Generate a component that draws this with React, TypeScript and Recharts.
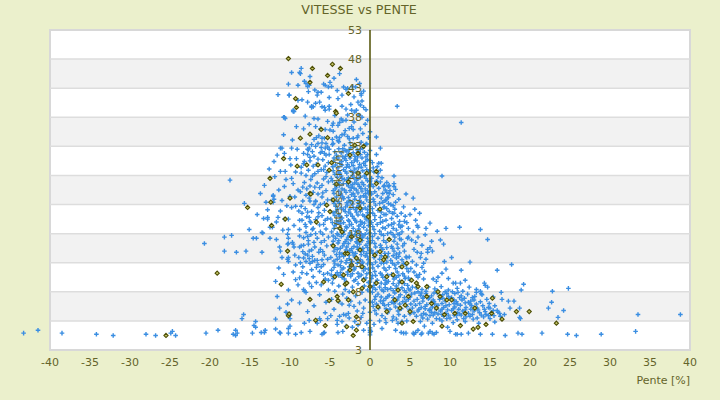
import React from "react";
import {
  ScatterChart,
  Scatter,
  XAxis,
  YAxis,
  ReferenceArea,
  ReferenceLine,
  ReferenceDot,
} from "recharts";

type P = [number, number];

const chartTitle = "VITESSE vs PENTE";
const xTitle = "Pente [%]";
const yTitle = "Vitesse [km/h]";

const xDomain: P = [-45, 40];
const yDomain: P = [-2, 53];
const xTicks = [-40, -35, -30, -25, -20, -15, -10, -5, 0, 5, 10, 15, 20, 25, 30, 35, 40];
const yTicks = [-2, 3, 8, 13, 18, 23, 28, 33, 38, 43, 48, 53];
const yTickLabels = ["3", "3", "8", "13", "18", "23", "28", "33", "38", "43", "48", "53"];
const grayBands: P[] = [[3, 8], [13, 18], [23, 28], [33, 38], [43, 48]];
const yTitleAt = 25.5;

const blueBottomRow: P[] = [
  [-43.3, 0.9], [-41.5, 1.4], [-38.5, 0.9], [-34.2, 0.7], [-32.1, 0.5], [-28, 0.7], [-26.8, 0.5],
  [-24.9, 0.9], [-24.7, 1.2], [-24.3, 0.5], [-20.5, 0.9], [-19, 1.4], [-17.1, 0.7], [-16.8, 0.5],
  [-16.6, 0.9], [-16.8, 1.4], [-14.7, 0.9], [-14.3, 1.9], [-13.6, 1.0], [-13.2, 1.0], [-13.1, 1.4],
  [-11.8, 1.6], [-11.3, 1.0], [-11.2, 0.9], [-10.2, 1.7], [-10, 2.1], [-10.2, 0.9], [-9.3, 0.7],
  [-8.6, 1.0], [-7.5, 1.2], [-6, 0.7], [-5.8, 0.9], [-5.7, 1.0], [-2.2, 1.9], [-3.4, 1.2], [-4.0, 1.0],
  [-1.5, 2.3], [-0.8, 1.4], [0, 1.0], [0, 1.4], [0, 0.6], [0.1, 1.2], [0, 1.8], [1.5, 1.7], [3.2, 1.4],
  [3.9, 1.0], [4.2, 0.9], [4.5, 0.9], [5.4, 0.9], [5.7, 1.0], [5.5, 0.7], [6, 1.4], [6.4, 0.7],
  [6.5, 0.9], [6.8, 2.1], [7.3, 0.9], [7.5, 1.2], [7.8, 0.9], [8, 0.7], [8.3, 1.0], [9.7, 1.9],
  [10, 1.2], [10.7, 0.7], [10.9, 0.7], [11.4, 0.7], [12.3, 0.9], [13.8, 0.7], [15.3, 0.7], [16.9, 0.5],
  [18.5, 0.9], [19, 0.7], [21.5, 0.9], [24.7, 0.7], [25.8, 0.5], [28.9, 0.7], [33.2, 1.2],
];

const blueLeftWing: P[] = [
  [-16, 3.4], [-15.8, 4.1], [-14.5, 2.2], [-14.3, 2.9], [-11.8, 3.3], [-10.3, 5.9], [-10.5, 4.5],
  [-10.2, 4.1], [-10, 4.0], [-10, 3.4], [-11.8, 9.8], [-9.3, 10.1], [-10.2, 8.3], [-11.6, 7.2],
  [-20.7, 16.3], [-18.2, 17.4], [-17.3, 17.7], [-18.2, 15], [-16.7, 14.8], [-15.5, 15], [-13.5, 14.8],
  [-15.7, 23.2], [-13.7, 24.9], [-12.1, 24.6], [-12, 23.9], [-12.1, 23.4], [-13, 23.4], [-11, 23.7],
  [-9.3, 22.7], [-9.8, 22.5], [-13.3, 20.6], [-12.8, 20.8], [-12.8, 20.5], [-12.5, 19.1], [-12.2, 19.1],
  [-11.5, 20.8], [-11.7, 20], [-15.1, 18.7], [-13.5, 18.2], [-13.4, 18.1], [-14.6, 17.2], [-14.2, 17.2],
  [-12.5, 17.2], [-10.7, 20.5], [-10.2, 20.5], [-10.2, 18.7], [-10.3, 17.9], [-10.2, 17.2], [-10.2, 16.3],
  [-10.3, 16.2], [-9.7, 16.5], [-9.6, 16.2], [-11.3, 15.7], [-11.2, 15], [-10.2, 13.9], [-10.2, 13.2],
  [-10.3, 13.6], [-9.3, 12.6], [-9.5, 15.7], [-17.5, 27.2], [-9.8, 27.5], [-9.6, 26.6], [-10.7, 26.1],
  [-9, 25.5], [-10, 24.4], [-12.1, 24.4], [-11, 32.7], [-11.2, 32.7], [-10.7, 31.8], [-10.8, 30.9],
  [-10, 30.9], [-9.2, 30.9], [-10.6, 28.7], [-11.2, 28.7], [-12, 30.4], [-9.8, 32.7], [-9.5, 39],
  [-9.6, 39.2], [-10.7, 38], [-10.6, 37.8], [-11.5, 41.9], [-10.1, 41.8], [-9, 40.9], [-9.8, 45.7],
  [-10.2, 43.7], [-9.6, 39.0], [-11.4, 12.1], [-10.8, 11.0], [-9.6, 11.4], [-11.0, 13.9], [-9.4, 14.3],
  [-11.7, 17.0], [-10.9, 18.6], [-9.5, 19.4], [-11.2, 21.9], [-10.4, 22.8], [-9.4, 24.3], [-11.4, 25.5],
  [-10.5, 27.3], [-9.3, 28.6], [-9.9, 29.8], [-11.6, 31.5], [-9.7, 34.1], [-10.8, 35.0], [-9.2, 36.4],
  [-11.9, 27.8], [-12.6, 29.1], [-13.2, 26.3], [-12.8, 22.1], [-14.1, 21.3], [-11.3, 5.2], [-9.8, 6.6],
  [-9.0, 9.2], [-10.8, 38.0], [-10.1, 41.8],
];

const blueLeftCloud: P[] = [
  [-8.8, 10.4], [-7.9, 11.1], [-7.1, 10.6], [-6.3, 11.5], [-5.6, 10.2], [-8.4, 12.3], [-7.5, 12.9],
  [-6.7, 12.2], [-5.8, 12.7], [-5.3, 13.6], [-8.9, 13.9], [-8.1, 14.5], [-7.2, 14.1], [-6.4, 14.8],
  [-5.7, 14.3], [-8.6, 15.9], [-7.7, 16.2], [-6.9, 15.7], [-6.1, 16.5], [-5.4, 15.9], [-8.3, 17.3],
  [-7.4, 17.8], [-6.6, 17.2], [-5.9, 17.9], [-5.2, 17.4], [-8.8, 18.7], [-8.0, 19.2], [-7.1, 18.9],
  [-6.3, 19.5], [-5.5, 18.8], [-8.5, 20.3], [-7.6, 20.8], [-6.8, 20.4], [-6.0, 21.1], [-5.3, 20.6],
  [-8.9, 21.9], [-8.1, 22.3], [-7.3, 21.8], [-6.5, 22.5], [-5.7, 22.0], [-8.4, 23.6], [-7.6, 24.1],
  [-6.8, 23.5], [-6.0, 24.3], [-5.3, 23.8], [-8.7, 25.2], [-7.9, 25.7], [-7.1, 25.1], [-6.3, 25.9],
  [-5.5, 25.4], [-8.2, 26.8], [-7.4, 27.3], [-6.6, 26.7], [-5.8, 27.4], [-5.2, 26.9], [-8.6, 28.4],
  [-7.7, 28.9], [-6.9, 28.3], [-6.1, 29.0], [-5.4, 28.5], [-8.3, 30.0], [-7.5, 30.5], [-6.7, 29.9],
  [-5.9, 30.7], [-5.2, 30.2], [-7.8, 31.6], [-7.0, 31.3], [-6.2, 31.9], [-5.5, 31.5], [-6.8, 33.0],
  [-6.0, 33.6], [-5.3, 32.9], [-6.4, 34.8], [-5.7, 34.4], [-8.0, 13.2], [-6.9, 13.4], [-6.0, 13.5],
  [-7.3, 15.2], [-6.2, 15.3], [-7.8, 17.5], [-6.2, 18.3], [-5.8, 19.6], [-7.4, 19.9], [-6.4, 21.6],
  [-7.0, 23.0], [-5.7, 23.2], [-6.5, 24.8], [-7.5, 26.2], [-6.0, 26.3], [-7.2, 27.9], [-5.6, 29.6],
  [-6.5, 30.8], [-7.7, 32.4], [-5.1, 31.6], [-8, 33.4], [-7.8, 32.5], [-7.6, 32.7], [-7.2, 32.1],
  [-8.3, 31.8], [-9.1, 32.5], [-8.2, 30.4], [-7.5, 31.1], [-6.5, 33.5], [-6.1, 32.8], [-5.6, 32.7],
  [-5.1, 32.5], [-5.7, 31.8], [-6.5, 37.7], [-5.3, 37.3], [-6.8, 36.4], [-5.6, 35.9], [-6.7, 34.5],
  [-6, 34.4], [-5.5, 33.5], [-7.3, 39.9], [-6.5, 42.3], [-6.1, 42.3], [-6.6, 41.8], [-6.8, 40.4],
  [-6.3, 40.6], [-5.1, 41.4], [-5.1, 39.9], [-5.7, 39.7], [-5.1, 39.4], [-8.6, 46.4], [-8.8, 45.7],
  [-8.7, 45.5], [-7.5, 45.0], [-8.2, 44.2], [-8, 43.8], [-9, 43.5], [-7.8, 43.3], [-7.6, 43.5],
  [-7.7, 42.4], [-6.9, 42.7], [-6, 39.8], [-5.6, 39.2], [-7.1, 39.8], [-7.3, 39.7], [-8.3, 8.4],
  [-8.2, 8.1], [-8, 7.9], [-7.6, 9.5], [-6.7, 9.6], [-6.1, 9.2], [-5.8, 11], [-5.3, 11.2], [-5.2, 10],
  [-6.6, 13.4], [-6.5, 12.7], [-7.2, 13.2], [-8.3, 13.8], [-7.8, 14.3], [-7.6, 15], [-7.7, 16.8],
  [-8.3, 16], [-8.8, 15.7], [-8.8, 17.6], [-8.1, 19.6], [-7.5, 20.1], [-7.2, 18.7], [-8.8, 20.3],
  [-8.5, 21.5], [-7.8, 21.7], [-7.5, 23.6], [-6.8, 23.6], [-8.2, 2.6], [-7.6, 3.1], [-6.3, 3.4],
  [-6.2, 3.1], [-5.3, 3.4], [-7.0, 5.6], [-6.3, 7.5], [-5.5, 6.2], [-5.2, 8.3], [-7.8, 4.6], [-6.6, 2.6],
  [-5.6, 4.4], [-8.8, 6.1], [-7.3, 8.9], [-5.8, 43.7], [-5.6, 43.5], [-5.2, 43.2], [-5.0, 44.0],
  [-8.5, 11.3], [-7.3, 11.8], [-6.1, 12.3], [-8.7, 13.0], [-7.6, 13.7], [-5.9, 14.9], [-8.4, 14.9],
  [-7.0, 16.5], [-5.7, 16.8], [-8.0, 18.2], [-6.8, 18.0], [-5.6, 20.3], [-7.9, 20.9], [-6.5, 20.9],
  [-8.6, 22.7], [-6.2, 23.0], [-8.0, 24.6], [-5.9, 25.0], [-8.4, 26.0], [-6.9, 26.0], [-5.5, 27.8],
  [-8.0, 28.0], [-6.5, 28.7], [-7.1, 29.6], [-5.8, 29.0], [-8.6, 29.4], [-6.0, 32.1], [-7.3, 33.3],
  [-7.0, 34.2], [-6.2, 36.0], [-7.6, 36.8], [-8.3, 36.0], [-8.1, 38.2], [-7.0, 37.8], [-8.5, 41.0],
  [-7.8, 40.6],
];

const blueCoreLeft: P[] = [
  [-4.6, 10.3], [-3.9, 10.8], [-3.2, 10.2], [-2.4, 10.7], [-1.8, 10.1], [-1.1, 10.9], [-0.5, 10.4],
  [-4.8, 11.7], [-4.1, 11.3], [-3.5, 11.9], [-2.8, 11.4], [-2.0, 11.8], [-1.5, 11.2], [-0.8, 11.6],
  [-0.2, 11.9], [-4.4, 12.8], [-3.7, 12.5], [-3.0, 13.0], [-2.3, 12.6], [-1.6, 12.9], [-0.9, 12.4],
  [-0.3, 12.8], [-4.9, 13.9], [-4.1, 13.6], [-3.3, 14.1], [-2.6, 13.7], [-1.9, 14.0], [-1.2, 13.5],
  [-0.6, 14.2], [-4.5, 15.0], [-3.8, 14.7], [-3.0, 15.2], [-2.2, 14.8], [-1.5, 15.3], [-0.8, 14.9],
  [-0.1, 15.1], [-4.7, 16.1], [-4.0, 16.4], [-3.4, 15.9], [-2.7, 16.3], [-2.0, 15.8], [-1.3, 16.2],
  [-0.5, 16.0], [-4.3, 17.2], [-3.6, 17.5], [-2.9, 17.0], [-2.2, 17.4], [-1.6, 17.1], [-0.9, 17.6],
  [-0.3, 17.2], [-4.8, 18.3], [-4.1, 18.0], [-3.2, 18.5], [-2.5, 18.1], [-1.8, 18.4], [-1.1, 18.0],
  [-0.4, 18.6], [-4.4, 19.4], [-3.7, 19.7], [-3.0, 19.2], [-2.3, 19.6], [-1.4, 19.3], [-0.7, 19.8],
  [-0.2, 19.4], [-4.9, 20.5], [-4.2, 20.2], [-3.5, 20.7], [-2.7, 20.3], [-2.0, 20.6], [-1.2, 20.1],
  [-0.5, 20.5], [-4.6, 21.6], [-3.9, 21.3], [-3.1, 21.8], [-2.4, 21.4], [-1.7, 21.7], [-0.9, 21.2],
  [-0.3, 21.6], [-4.3, 22.7], [-3.6, 22.4], [-2.8, 22.9], [-2.1, 22.5], [-1.4, 22.8], [-0.6, 22.4],
  [-4.8, 23.8], [-4.0, 23.5], [-3.3, 24.0], [-2.6, 23.6], [-1.9, 23.9], [-1.1, 23.4], [-0.4, 23.8],
  [-4.5, 24.9], [-3.7, 24.6], [-3.0, 25.1], [-2.3, 24.7], [-1.5, 25.0], [-0.8, 24.5], [-0.2, 24.9],
  [-4.2, 26.0], [-3.5, 25.7], [-2.7, 26.2], [-2.0, 25.8], [-1.3, 26.1], [-0.6, 25.7], [-4.7, 27.1],
  [-3.9, 26.8], [-3.2, 27.3], [-2.5, 26.9], [-1.7, 27.2], [-1.0, 26.8], [-0.3, 27.1], [-4.4, 28.2],
  [-3.6, 27.9], [-2.9, 28.4], [-2.2, 28.0], [-1.4, 28.3], [-0.7, 27.9], [-4.0, 29.3], [-3.3, 29.0],
  [-2.6, 29.5], [-1.9, 29.1], [-1.1, 29.4], [-0.4, 29.0], [-4.6, 30.4], [-3.8, 30.1], [-3.0, 30.6],
  [-2.3, 30.2], [-1.6, 30.5], [-0.8, 30.1], [-4.2, 31.5], [-3.4, 31.2], [-2.7, 31.7], [-1.9, 31.3],
  [-1.2, 31.6], [-0.5, 31.2], [-3.9, 32.6], [-3.1, 32.3], [-2.4, 32.8], [-1.6, 32.4], [-0.9, 32.7],
  [-4.3, 10.9], [-3.5, 10.5], [-2.8, 11.0], [-1.4, 10.6], [-0.8, 10.2], [-4.5, 12.2], [-3.3, 12.1],
  [-2.6, 12.3], [-1.9, 12.1], [-1.2, 12.3], [-0.6, 12.0], [-4.5, 13.3], [-3.6, 13.2], [-2.9, 13.4],
  [-2.2, 13.2], [-1.5, 13.4], [-0.9, 13.1], [-0.2, 13.5], [-4.2, 14.4], [-3.5, 14.5], [-2.6, 14.3],
  [-1.8, 14.6], [-1.1, 14.4], [-0.4, 14.6], [-4.4, 15.6], [-3.7, 15.5], [-2.9, 15.7], [-2.3, 15.4],
  [-1.6, 15.7], [-0.9, 15.5], [-0.3, 15.6], [-4.6, 16.7], [-3.9, 16.8], [-3.1, 16.6], [-2.4, 16.9],
  [-1.7, 16.6], [-1.0, 16.8], [-0.2, 16.6], [-4.0, 17.8], [-3.3, 17.9], [-2.6, 17.7], [-1.9, 17.8],
  [-1.3, 17.7], [-0.6, 17.9], [-4.5, 18.9], [-3.8, 18.8], [-2.9, 19.0], [-2.1, 18.9], [-1.4, 18.8],
  [-0.8, 19.1], [-4.7, 19.9], [-4.0, 20.0], [-3.3, 19.9], [-2.6, 20.1], [-1.7, 20.0], [-1.0, 19.9],
  [-0.2, 20.2], [-4.4, 21.1], [-3.8, 21.0], [-2.9, 21.1], [-2.2, 21.0], [-1.5, 21.2], [-0.7, 21.0],
  [-4.1, 22.2], [-3.3, 22.1], [-2.5, 22.2], [-1.8, 22.1], [-1.0, 22.2], [-0.3, 22.1], [-4.5, 23.2],
  [-3.8, 23.2], [-2.9, 23.3], [-2.2, 23.1], [-1.5, 23.3], [-0.8, 23.2], [-4.2, 24.3], [-3.4, 24.3],
  [-2.7, 24.2], [-1.9, 24.4], [-1.2, 24.3], [-0.5, 24.3], [-4.6, 25.4], [-3.9, 25.3], [-3.2, 25.5],
  [-2.5, 25.4], [-1.7, 25.5], [-1.0, 25.3], [-0.3, 25.4], [-4.4, 26.5], [-3.8, 26.3], [-2.9, 26.6],
  [-2.2, 26.4], [-1.5, 26.5], [-0.8, 26.4], [-4.1, 27.7], [-3.5, 27.5], [-2.7, 27.6], [-2.0, 27.6],
  [-1.2, 27.7], [-0.5, 27.5], [-4.6, 28.8], [-3.9, 28.6], [-3.1, 28.7], [-2.4, 28.8], [-1.6, 28.6],
  [-0.9, 28.8], [-0.2, 28.5], [-4.3, 29.8], [-3.5, 29.8], [-2.8, 29.9], [-2.1, 29.7], [-1.3, 29.9],
  [-0.6, 29.7], [-4.0, 31.0], [-3.2, 30.9], [-2.5, 31.0], [-1.8, 30.8], [-1.0, 31.0], [-0.3, 30.7],
  [-4.4, 32.1], [-3.6, 31.9], [-2.9, 32.2], [-2.1, 31.9], [-1.4, 32.1], [-0.7, 32.0],
  [-4.85, 10.9], [-3.7, 11.3], [-2.2, 11.1], [-0.4, 11.1], [-4.0, 12.6], [-2.45, 13.0], [-1.0, 12.9],
  [-3.8, 14.0], [-2.0, 14.3], [-0.3, 14.0], [-4.1, 15.3], [-2.55, 15.1], [-1.15, 15.0], [-3.25, 16.3],
  [-1.6, 16.4], [-0.1, 16.3], [-4.6, 17.6], [-2.75, 17.4], [-0.95, 17.3], [-3.45, 18.3], [-1.5, 18.3],
  [-0.1, 18.0], [-4.2, 19.6], [-2.55, 19.5], [-1.15, 19.6], [-3.65, 20.4], [-1.85, 20.3], [-0.45, 20.9],
  [-4.25, 21.8], [-2.65, 21.7], [-1.2, 21.8], [-3.05, 22.6], [-1.65, 22.5], [-0.1, 22.7], [-4.45, 23.6],
  [-2.45, 23.5], [-1.3, 23.7], [-3.65, 24.8], [-2.1, 24.9], [-0.55, 24.9], [-4.35, 25.7], [-2.35, 25.9],
  [-1.15, 25.8], [-3.35, 26.6], [-1.9, 26.7], [-0.15, 26.2], [-4.85, 27.5], [-2.85, 27.2], [-1.55, 27.4],
  [-3.75, 28.4], [-2.05, 28.5], [-0.5, 28.3], [-4.65, 29.5], [-2.95, 29.4], [-1.45, 29.3], [-3.55, 30.4],
  [-1.95, 30.5], [-0.55, 30.4], [-4.5, 31.0], [-3.05, 31.3], [-1.55, 31.2], [-2.6, 32.4], [-1.2, 32.5],
  [-3.4, 32.6],
  [-4.7, 33.3], [-3.9, 33.8], [-3.2, 33.2], [-2.5, 33.6], [-1.8, 33.1], [-1.1, 33.7], [-0.4, 33.4],
  [-4.2, 34.6], [-3.5, 35.0], [-2.6, 34.3], [-1.5, 34.8], [-0.9, 35.2], [-0.2, 34.5], [-4.6, 35.6],
  [-3.1, 35.7], [-2.3, 36.4], [-1.2, 36.0], [-0.6, 36.8], [-4.0, 36.6], [-3.4, 37.4], [-2.0, 37.2],
  [-1.0, 38.0], [-0.3, 37.5], [-4.4, 38.3], [-2.8, 38.4], [-1.9, 38.9], [-0.5, 39.3], [-3.5, 39.9],
  [-2.4, 40.2], [-1.2, 40.1], [-4.0, 41.2], [-2.0, 41.5], [-0.8, 42.5], [-3.0, 42.8], [-1.7, 44.5],
  [-3.8, 45.5], [-4.1, 42.6], [-3.5, 41.8], [-3, 39.4], [-3.6, 37.7], [-2.3, 39.2], [-1.7, 39.2],
  [-1.5, 40.6], [-1.1, 41.8], [-3.3, 43.2], [-2.8, 43], [-2.2, 43.3], [-1.8, 43.2], [-1.3, 43.8],
  [-1.1, 42.1], [-4.5, 44.7], [-4.8, 43.3], [-4.6, 37], [-3.8, 37.1], [-3, 37.5], [-2.6, 36.1],
  [-2.1, 35.9], [-4.7, 36.6], [-5, 35.8], [-4.7, 34.2], [-4.6, 33.5], [-4, 34], [-3.8, 34.5],
  [-3.2, 35.1], [-2.8, 34.7], [-2.1, 34.4], [-1.6, 34.5], [-1.0, 40.8], [-0.8, 39.7], [-1.4, 38.4],
  [-4.7, 9.5], [-3.9, 9.0], [-3.0, 9.7], [-2.2, 8.8], [-1.5, 9.4], [-0.7, 9.0], [-4.4, 8.1],
  [-3.4, 7.6], [-2.6, 8.0], [-1.8, 7.3], [-1.0, 7.9], [-0.3, 8.3], [-4.8, 6.7], [-3.9, 6.3],
  [-2.9, 6.9], [-1.3, 6.1], [-0.6, 6.6], [-4.5, 5.0], [-1.6, 4.7], [-0.8, 5.2], [-4.9, 3.9],
  [-1.1, 3.6], [-0.4, 2.6], [-1.9, 2.9], [-3.1, 8.4], [-2.0, 9.9], [-0.2, 9.6], [-4.1, 2.4],
  [-3.0, 2.1], [-2.4, 6.4], [-0.9, 4.3], [-4.1, 3.1], [-3.8, 3.8], [-3.5, 5.9], [-3.5, 2.9],
  [-3.3, 4.1], [-3, 4.0], [-2.7, 4.3], [-2.6, 5.7], [-2.6, 3.5], [-2, 5.5],
];

const blueAxisColumn: P[] = [
  [0, 3.1], [0, 4.5], [0, 6.2], [0, 8.0], [0, 9.7], [0, 11.3], [0, 13.0], [0, 14.6], [0, 16.4],
  [0, 18.1], [0, 19.9], [0, 21.6], [0, 23.4], [0, 25.2], [0, 27.0], [0, 28.8], [0, 30.6], [0, 32.3],
  [0, 35.5], [-0.5, 33.4], [-0.3, 31.6],
];

const blueCoreRight: P[] = [
  [0.3, 30.2], [0.9, 29.5], [0.5, 28.6], [1.3, 28.9], [0.2, 27.5], [0.8, 27.0], [1.5, 27.6], [2.1, 26.8],
  [0.4, 26.1], [1.1, 25.8], [1.8, 26.3], [2.5, 25.4], [0.2, 24.8], [0.9, 24.5], [1.6, 24.9], [2.3, 24.2],
  [2.9, 24.7], [0.5, 23.5], [1.2, 23.2], [1.9, 23.7], [2.6, 23.0], [3.2, 23.4], [0.3, 22.3], [1.0, 22.0],
  [1.7, 22.5], [2.4, 21.8], [3.1, 22.2], [0.6, 21.1], [1.3, 20.8], [2.0, 21.3], [2.7, 20.6], [3.4, 21.0],
  [0.2, 19.9], [0.9, 19.6], [1.6, 20.1], [2.3, 19.4], [3.0, 19.8], [3.6, 19.5], [0.5, 18.7], [1.2, 18.4],
  [1.9, 18.9], [2.6, 18.2], [3.3, 18.6], [4.0, 18.3], [0.3, 17.5], [1.0, 17.2], [1.7, 17.7], [2.4, 17.0],
  [3.1, 17.4], [3.7, 17.1], [0.6, 16.3], [1.3, 16.0], [2.0, 16.5], [2.7, 15.8], [3.4, 16.2], [4.1, 15.9],
  [0.2, 15.1], [0.9, 14.8], [1.6, 15.3], [2.3, 14.6], [3.0, 15.0], [3.7, 14.7], [4.3, 15.0], [0.5, 13.9],
  [1.2, 13.6], [1.9, 14.1], [2.6, 13.4], [3.3, 13.8], [4.0, 13.5], [0.3, 12.7], [1.0, 12.4], [1.7, 12.9],
  [2.4, 12.2], [3.1, 12.6], [3.8, 12.3], [4.5, 12.7], [0.6, 11.5], [1.3, 11.2], [2.0, 11.7], [2.7, 11.0],
  [3.4, 11.4], [4.1, 11.1], [4.8, 11.5], [0.2, 10.3], [0.9, 10.0], [1.6, 10.5], [2.3, 9.8], [3.0, 10.2],
  [3.7, 9.9], [4.4, 10.3], [5.0, 10.0], [0.5, 9.1], [1.2, 8.8], [1.9, 9.3], [2.6, 8.6], [3.3, 9.0],
  [4.0, 8.7], [4.7, 9.1], [5.3, 8.8], [0.3, 7.9], [1.0, 7.6], [1.7, 8.1], [2.4, 7.4], [3.1, 7.8],
  [3.8, 7.5], [4.5, 7.9], [5.2, 7.6], [0.6, 6.7], [1.3, 6.4], [2.0, 6.9], [2.7, 6.2], [3.4, 6.6],
  [4.1, 6.3], [4.8, 6.7], [5.5, 6.4], [0.4, 5.5], [1.1, 5.2], [1.8, 5.7], [2.5, 5.0], [3.2, 5.4],
  [3.9, 5.1], [4.6, 5.5], [5.3, 5.2], [0.8, 4.2], [1.5, 3.9], [2.2, 4.4], [2.9, 3.7], [3.6, 4.1],
  [4.3, 3.8], [5.0, 4.2], [1.2, 3.0], [2.0, 2.7], [2.8, 3.1], [3.5, 2.6], [4.6, 3.0], [0.5, 2.4],
  [0.6, 25.2], [1.4, 24.1], [2.1, 25.1], [0.7, 22.9], [1.4, 21.7], [2.1, 22.3], [2.8, 21.5], [0.6, 20.4],
  [1.3, 19.9], [2.0, 20.3], [2.7, 19.6], [0.6, 18.0], [1.4, 17.9], [2.2, 18.0], [2.9, 17.8], [3.5, 17.9],
  [0.7, 15.7], [1.4, 15.6], [2.1, 15.6], [2.8, 15.5], [3.5, 15.5], [0.6, 14.3], [1.4, 14.2], [2.2, 14.0],
  [2.9, 14.2], [3.6, 14.1], [0.7, 13.1], [1.4, 12.9], [2.1, 13.1], [2.8, 12.9], [3.5, 13.0], [4.2, 12.9],
  [0.7, 10.8], [1.5, 10.9], [2.2, 10.9], [2.9, 10.7], [3.6, 10.8], [4.3, 10.7], [0.7, 9.6], [1.4, 9.5],
  [2.1, 9.6], [2.9, 9.4], [3.6, 9.5], [4.3, 9.4], [0.7, 8.4], [1.5, 8.3], [2.2, 8.4], [2.9, 8.2],
  [3.6, 8.3], [4.3, 8.2], [5.0, 8.3], [0.7, 7.2], [1.4, 7.1], [2.2, 7.2], [2.9, 7.0], [3.6, 7.1],
  [4.3, 7.0], [5.0, 7.1], [0.8, 5.9], [1.6, 6.0], [2.3, 5.8], [3.0, 6.0], [3.7, 5.9], [4.4, 5.8],
  [5.1, 5.9], [1.3, 32.7], [0.8, 31.6], [1.4, 30.1], [0.8, 34.6], [1.0, 28.4], [1.0, 27.8], [0.9, 26.9],
  [1.7, 26.1], [1.9, 25.5], [2.0, 23.8], [1.8, 22.6], [2.3, 23.2], [3.0, 27.9], [3.0, 26.6], [3.0, 26.1],
  [3.2, 25.6], [2.3, 26.1], [2.4, 24.9], [2.2, 24.2], [3.4, 39.9],
  [0.4, 29.3], [1.1, 30.1], [0.15, 26.5], [1.3, 26.9], [2.4, 26.3], [0.4, 23.9], [1.6, 23.4], [2.9, 22.8],
  [0.35, 21.5], [1.75, 21.3], [3.0, 21.5], [0.35, 19.2], [1.6, 19.0], [2.9, 18.9], [0.3, 16.8],
  [1.7, 16.8], [3.0, 16.7], [0.35, 14.6], [1.85, 14.6], [3.3, 14.5], [4.5, 14.0], [0.35, 12.1],
  [1.75, 12.1], [3.2, 12.0], [4.6, 12.0], [0.3, 10.8], [1.9, 10.0], [3.3, 10.5], [4.8, 10.4],
  [0.35, 8.7], [1.9, 8.7], [3.3, 8.6], [4.8, 8.5], [0.3, 6.2], [1.7, 6.5], [3.1, 6.3], [4.5, 6.4],
  [0.6, 4.8], [2.0, 5.1], [3.5, 4.7], [4.9, 4.9], [1.9, 3.4], [3.3, 3.3], [4.0, 2.9],
];

const blueRightWing: P[] = [
  [5.0, 21.3], [4.4, 21.0], [4.3, 20.1], [3.7, 20.1], [4.0, 19.3], [4.8, 18.9], [3.8, 19.1], [5.7, 20.3],
  [5.9, 19.4], [6.0, 19.1], [7.0, 18.9], [7.5, 19.8], [8.4, 18.4], [9.5, 18.9], [11.2, 19.1], [13.8, 18.7],
  [14.7, 17.0], [8.8, 16.9], [9.2, 16.2], [7.7, 16.7], [7.5, 15.6], [7.8, 15.0], [7.2, 15.3], [7.2, 14.8],
  [7.0, 13.6], [6.0, 17.4], [5.7, 16.5], [5.5, 15.3], [5.9, 14.8], [4.8, 17.4], [4.7, 17.2], [3.7, 17.9],
  [3.9, 17.0], [4.3, 16.3], [10.2, 13.9], [9.3, 13.2], [12.5, 13.1], [17.7, 12.7], [15.9, 11.7],
  [11.4, 11.7], [9.5, 11.9], [9.0, 11.2], [9.8, 10.3], [10.4, 9.5], [10.7, 9.5], [11.3, 9.5], [11.9, 10.0],
  [8.5, 10.5], [7.9, 10.2], [8.3, 9.8], [6.7, 12.9], [6.5, 12.2], [6.8, 11.5], [6.2, 11.0], [5.5, 11.4],
  [6.0, 10.5], [6.7, 10.2], [6.2, 21.5], [4.9, 14.0], [5.3, 13.2], [4.6, 13.9], [5.8, 12.6], [5.1, 12.0],
  [6.3, 13.9], [5.2, 16.9], [4.6, 19.9], [5.4, 18.3], [6.5, 16.0], [6.9, 17.8], [5.6, 22.2], [4.2, 22.6],
  [3.6, 23.9], [4.5, 24.8], [3.9, 21.5], [6.4, 14.6], [5.8, 10.8], [9.0, 27.9], [5.4, 24.1], [11.4, 37.1],
  [5.8, 8.7], [6.5, 8.4], [7.3, 8.8], [8.1, 8.5], [8.9, 8.9], [9.8, 8.3], [10.9, 8.6], [12.4, 8.8],
  [13.3, 8.4], [5.6, 7.8], [6.3, 7.4], [7.0, 7.7], [7.7, 7.3], [8.4, 7.8], [9.1, 7.5], [9.8, 7.2],
  [10.6, 7.7], [11.4, 7.3], [12.2, 7.6], [13.1, 7.2], [14.0, 7.5], [5.9, 6.7], [6.6, 6.4], [7.3, 6.8],
  [8.0, 6.3], [8.7, 6.7], [9.4, 6.4], [10.1, 6.8], [10.8, 6.3], [11.5, 6.6], [12.3, 6.2], [13.0, 6.6],
  [13.8, 6.3], [14.6, 6.7], [5.7, 5.7], [6.4, 5.3], [7.1, 5.8], [7.8, 5.4], [8.5, 5.7], [9.2, 5.3],
  [9.9, 5.8], [10.6, 5.4], [11.3, 5.7], [12.0, 5.3], [12.7, 5.6], [13.4, 5.2], [14.1, 5.6], [14.8, 5.3],
  [15.6, 5.6], [6.0, 4.7], [6.7, 4.3], [7.4, 4.8], [8.1, 4.4], [8.8, 4.7], [9.5, 4.3], [10.2, 4.8],
  [10.9, 4.4], [11.6, 4.7], [12.3, 4.3], [13.0, 4.7], [13.7, 4.4], [14.4, 4.6], [15.1, 4.3], [16.0, 4.5],
  [5.8, 3.8], [6.6, 3.5], [7.5, 3.9], [8.3, 3.4], [9.2, 3.8], [10.0, 3.5], [10.8, 3.9], [11.7, 3.4],
  [12.5, 3.8], [13.4, 3.5], [14.2, 3.7], [15.0, 3.4], [6.3, 2.9], [7.8, 2.6], [9.0, 3.0], [10.4, 2.7],
  [11.9, 2.9], [13.6, 2.6], [15.6, 2.8], [6.0, 8.0], [7.0, 8.1], [8.4, 8.2], [9.4, 8.0], [10.3, 8.0],
  [11.6, 8.1], [6.7, 7.1], [7.4, 7.0], [8.8, 7.0], [10.2, 7.0], [11.8, 6.9], [12.8, 7.0], [6.2, 6.0],
  [7.6, 6.1], [9.0, 6.0], [10.5, 6.0], [11.9, 6.1], [13.3, 5.9], [6.1, 5.0], [6.9, 5.1], [7.5, 5.0],
  [8.3, 5.0], [9.0, 5.0], [9.7, 4.9], [10.4, 5.1], [11.1, 5.0], [11.9, 4.9], [12.6, 5.0], [13.5, 4.9],
  [7.0, 4.1], [7.9, 4.0], [9.0, 4.1], [10.5, 4.0], [11.2, 4.2], [12.8, 4.1], [14.8, 3.9], [8.7, 3.3],
  [10.9, 3.2], [15.4, 4.8], [15.9, 4.8], [16.2, 4.3], [16.8, 4.1], [16.3, 3.8], [15, 5.2], [14.9, 6.0],
  [15.4, 7.1], [13.8, 8.1], [13.9, 7.7], [13.3, 7.9], [14.3, 9.5], [14.4, 9.1], [14.7, 8.8], [16.4, 7.9],
  [17.3, 6.4], [16.5, 6.7], [19.2, 9.3], [18.9, 8.3], [22.8, 8.1], [24.8, 8.6], [18.7, 3.6], [18.8, 3.4],
  [18.7, 5.2], [17.5, 5.2], [18, 6.4], [22.7, 6.2], [22.3, 5.2], [23.5, 3.6], [24.2, 4.8], [33.5, 4.1],
  [38.8, 4.1],
  [5.5, 4.4], [6.4, 4.0], [7.7, 4.5], [8.5, 4.2], [9.8, 4.0], [11.4, 4.0], [12.0, 3.7], [13.9, 4.0],
  [6.9, 5.5], [8.1, 5.9], [9.5, 5.6], [10.9, 5.9], [12.5, 5.9], [14.3, 5.0], [6.6, 6.9], [7.9, 6.6],
  [9.1, 6.9], [10.5, 6.6], [11.2, 7.0], [12.6, 6.4], [6.4, 7.8], [8.0, 7.8], [9.6, 7.7], [11.0, 7.9],
  [7.2, 3.3], [9.6, 3.4], [12.9, 3.3], [14.5, 4.1], [15.5, 3.9],
];

const olivePoints: P[] = [
  [-25.5, 0.5], [-10.2, 3.9], [-6.8, 3.1], [-5.6, 2.2], [-5.1, 6.5], [-4, 6.5], [-2.1, 0.5], [-1.7, 1.4],
  [9, 2.1], [11.3, 2.2], [12.9, 1.6], [13.5, 1.9], [14.5, 2.4], [23.3, 2.6], [19.9, 4.6], [18.3, 4.6],
  [15.3, 6.9], [16.5, 3.3], [-10.2, 48.1], [-7.2, 46.4], [-4.7, 47.1], [-3.7, 46.4], [-5.3, 45.2],
  [-7.5, 44], [-2.7, 42.1], [-9.3, 41.2], [-4.3, 39.0], [-4.2, 38.7], [-7.5, 35.1], [-6.1, 35.9],
  [-5.3, 34.5], [-8.7, 34.4], [-10.8, 30.9], [-9.1, 29.6], [-12.4, 23.4], [-10, 24.1], [-15.3, 22.5],
  [-12.3, 19.4], [-10.6, 20.5], [-10.3, 15], [-19.1, 11.2], [-11.1, 9.3], [-7.5, 6.7], [-4.1, 7.2],
  [-3.1, 9.3], [-12.5, 27.5], [-9.2, 39.7], [-0.4, 28.4], [0.8, 26.6], [1.25, 22.2], [2.4, 17],
  [1.25, 14.9], [1.9, 14], [4.6, 12.9], [4, 12.3], [2.1, 10.6], [0.8, 9.5], [3.5, 8.3], [5.2, 10],
  [5.8, 9.5], [7.1, 8.9], [8.5, 8], [8.75, 7.2], [9.6, 6.6], [10.2, 6.6], [10.6, 4.3], [9.3, 4.1],
  [8.3, 5.2], [7.7, 6.0], [5, 4.6], [4.4, 5.7], [3.75, 5.2], [3.1, 6.6], [2.1, 4.6], [1, 5.4], [4, 2.6],
  [5.4, 2.9], [15.2, 4.3], [13.1, 5.2], [11.9, 4.3], [7.1, 7.2], [6, 8.9], [4.8, 7.2], [-1.9, 33.2],
  [-0.8, 33], [-2.5, 31.5], [-4.8, 30.2], [0.8, 28.7], [-1.5, 28.4], [-2.7, 26.9], [-5.4, 22.9],
  [-5, 21.8], [-1.25, 22.4], [-0.2, 20.9], [-3.75, 18.9], [-2.3, 17.5], [-1.25, 16.9], [-4.6, 15.9],
  [-3.1, 14.6], [-1.7, 13.8], [-2.3, 12.6], [-1, 12.3], [0.6, 14.3], [1.7, 13.5], [-4.4, 10.6],
  [-3.3, 10.9], [-2.9, 9.5], [-5.8, 9.7], [0, 8.9], [2.9, 10.9], [4, 9.7], [-1.5, 31.8], [-7.9, 29.8],
  [-6.5, 29.8], [-5.1, 28.9], [-4.2, 26.5], [-7.5, 24.9], [-7.4, 24.8], [-6.7, 20], [-4.6, 23.8],
  [-3.5, 18.3], [-2.8, 14.6], [-1.25, 15.2], [-2.5, 11.75], [-0.8, 10], [-1, 8.6], [-2.1, 8],
  [-2.7, 6.6], [-1.7, 3.7], [-2.9, 2], [-10.1, 4.2],
];

const toRows = (pts: P[]) => pts.map(([x, y]) => ({ x, y }));
const blueData = toRows([
  ...blueBottomRow,
  ...blueLeftWing,
  ...blueLeftCloud,
  ...blueCoreLeft,
  ...blueAxisColumn,
  ...blueCoreRight,
  ...blueRightWing,
]);
const oliveData = toRows(olivePoints);

const BG = "#ebf0cc";
const TEXT = "#64642a";
const AXIS = "#5a5a12";
const BLUE = "#3a8ee2";
const GRID = "#dddddd";
const FONT = "'DejaVu Sans', sans-serif";

const PlusShape = (props: any) => {
  const { cx, cy } = props;
  if (cx == null || cy == null) return null;
  const h = 2.3;
  return (
    <path
      d={`M${cx - h},${cy}H${cx + h}M${cx},${cy - h}V${cy + h}`}
      stroke={BLUE}
      strokeWidth={1.4}
      fill="none"
    />
  );
};

const DiamondShape = (props: any) => {
  const { cx, cy } = props;
  if (cx == null || cy == null) return null;
  const h = 2.1;
  return (
    <path
      d={`M${cx},${cy - h}L${cx + h},${cy}L${cx},${cy + h}L${cx - h},${cy}Z`}
      stroke="#4e4f06"
      strokeWidth={1.1}
      fill="#c4c466"
    />
  );
};

const YTitle = (props: any) => {
  const vb = props.viewBox || {};
  const bx = vb.x ?? vb.cx ?? 0;
  const by = vb.y ?? vb.cy ?? 0;
  const x = bx + (vb.width ?? 0) / 2 - 32;
  const y = by + (vb.height ?? 0) / 2;
  return (
    <text
      x={x}
      y={y}
      transform={`rotate(-90 ${x} ${y})`}
      textAnchor="middle"
      dominantBaseline="central"
      fill={TEXT}
      fontSize={11}
      fontFamily={FONT}
    >
      {yTitle}
    </text>
  );
};

const XTitle = (props: any) => {
  const vb = props.viewBox || {};
  return (
    <text
      x={(vb.x ?? 0) + (vb.width ?? 0)}
      y={(vb.y ?? 0) + 34}
      textAnchor="end"
      fill={TEXT}
      fontSize={11}
      fontFamily={FONT}
    >
      {xTitle}
    </text>
  );
};

const layer: React.CSSProperties = { position: "absolute", left: 0, top: 0 };

export default function App() {
  return (
    <div
      style={{
        position: "absolute",
        left: 0,
        top: 0,
        width: 720,
        height: 400,
        background: BG,
        fontFamily: FONT,
        overflow: "hidden",
      }}
    >
      <div
        style={{
          position: "absolute",
          left: 0,
          top: 2,
          width: 718,
          textAlign: "center",
          fontSize: 12.7,
          lineHeight: "16px",
          color: TEXT,
          fontFamily: FONT,
        }}
      >
        {chartTitle}
      </div>
      <div style={layer}>
        <ScatterChart
          width={720}
          height={400}
          margin={{ top: 30, right: 30, bottom: 10, left: 10 }}
        >
          <XAxis
            type="number"
            dataKey="x"
            domain={xDomain}
            ticks={xTicks}
            interval={0}
            axisLine={false}
            tickLine={false}
            height={40}
            tick={{ fill: TEXT, fontSize: 11, fontFamily: FONT }}
            label={<XTitle />}
          />
          <YAxis type="number" dataKey="y" domain={yDomain} hide width={0} />
          <ReferenceArea
            x1={-40}
            x2={40}
            y1={-2}
            y2={53}
            fill="#ffffff"
            fillOpacity={1}
            stroke="none"
          />
          {grayBands.map(([a, b]) => (
            <ReferenceArea
              key={`band-${a}`}
              x1={-40}
              x2={40}
              y1={a}
              y2={b}
              fill="#f2f2f2"
              fillOpacity={1}
              stroke="none"
            />
          ))}
          {yTicks.slice(1, -1).map((v) => (
            <ReferenceLine
              key={`grid-${v}`}
              segment={[
                { x: -40, y: v },
                { x: 40, y: v },
              ]}
              stroke={GRID}
              strokeWidth={1.5}
            />
          ))}
          <ReferenceArea
            x1={-40}
            x2={40}
            y1={-2}
            y2={53}
            fill="none"
            fillOpacity={0}
            stroke="#d8d8d8"
            strokeWidth={2}
          />
          <Scatter data={blueData} shape={PlusShape} isAnimationActive={false} />
          <Scatter data={oliveData} shape={DiamondShape} isAnimationActive={false} />
        </ScatterChart>
      </div>
      <div style={layer}>
        <ScatterChart
          width={720}
          height={400}
          margin={{ top: 30, right: 30, bottom: 50, left: 10 }}
        >
          <XAxis type="number" dataKey="x" domain={xDomain} allowDataOverflow hide />
          <YAxis type="number" dataKey="y" domain={yDomain} allowDataOverflow hide width={0} />
          <ReferenceLine x={0} stroke={AXIS} strokeWidth={1.6} />
          <ReferenceDot
            x={0}
            y={yTitleAt}
            r={0}
            fill="none"
            stroke="none"
            label={<YTitle />}
          />
          {yTicks.map((v, i) => (
            <ReferenceDot
              key={`yl-${v}`}
              x={0}
              y={v}
              r={0}
              fill="none"
              stroke="none"
              label={{
                value: yTickLabels[i],
                position: "left",
                offset: 8,
                fill: TEXT,
                fontSize: 11,
                fontFamily: FONT,
              }}
            />
          ))}
        </ScatterChart>
      </div>
    </div>
  );
}
